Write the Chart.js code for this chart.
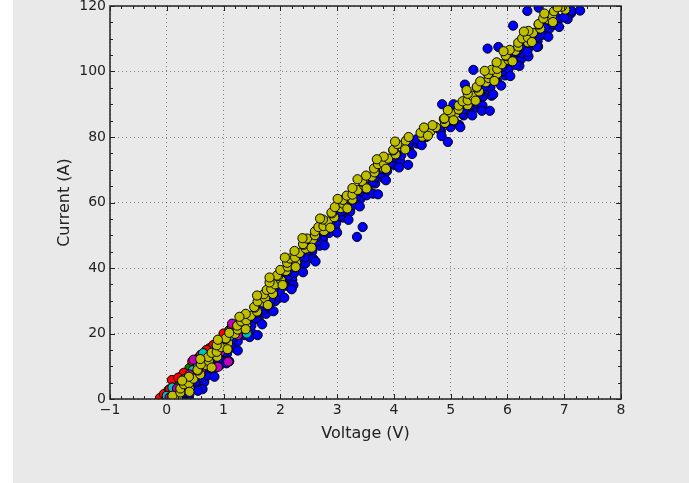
<!DOCTYPE html>
<html>
<head>
<meta charset="utf-8">
<script src="https://cdn.jsdelivr.net/npm/chart.js@4.4.1/dist/chart.umd.min.js"></script>
<style>
  html, body { margin: 0; padding: 0; background: #fff; }
  canvas { display: block; }
</style>
</head>
<body>
<canvas id="myChart" width="689" height="483"></canvas>
<script>
// tick labels
const voltageTicks = [-1, 0, 1, 2, 3, 4, 5, 6, 7, 8];
const currentTicks = [0, 20, 40, 60, 80, 100, 120];

// [voltage, current] readings, one array per run
const blue = [
  [0.39,0.2],[0.27,1.1],[0.40,1.6],[0.31,2.0],[0.53,3.4],[0.48,3.9],[0.66,5.2],[0.50,5.3],[0.62,6.5],[0.72,7.2],
  [0.61,7.8],[0.83,9.1],[0.75,9.5],[0.93,10.2],[0.81,11.5],[0.94,12.0],[0.84,12.4],[1.06,13.8],[1.01,14.3],[1.19,15.6],
  [1.04,15.7],[1.16,16.9],[1.25,17.6],[1.14,18.2],[1.37,19.5],[1.29,19.9],[1.48,20.6],[1.36,21.9],[1.49,22.4],[1.40,22.8],
  [1.62,24.2],[1.57,24.7],[1.75,26.0],[1.59,26.1],[1.71,27.3],[1.80,28.0],[1.69,28.6],[1.91,29.9],[1.83,30.3],[2.00,31.0],
  [1.87,32.3],[1.99,32.8],[1.88,33.2],[2.10,34.6],[2.04,35.1],[2.21,36.4],[2.04,36.5],[2.15,37.7],[2.24,38.4],[2.13,39.0],
  [2.34,40.3],[2.26,40.7],[2.44,41.4],[2.32,42.7],[2.44,43.2],[2.34,43.6],[2.56,45.0],[2.51,45.5],[2.69,46.8],[2.53,46.9],
  [2.65,48.1],[2.75,48.8],[2.64,49.4],[2.86,50.7],[2.79,51.1],[2.97,51.8],[2.85,53.1],[2.98,53.6],[2.88,54.0],[3.10,55.4],
  [3.05,55.9],[3.23,57.2],[3.07,57.3],[3.19,58.5],[3.28,59.2],[3.18,59.8],[3.41,61.1],[3.33,61.5],[3.52,62.2],[3.41,63.5],
  [3.54,64.0],[3.45,64.4],[3.67,65.8],[3.63,66.3],[3.81,67.6],[3.66,67.7],[3.78,68.9],[3.88,69.6],[3.77,70.2],[4.00,71.5],
  [3.92,71.9],[4.11,72.6],[4.00,73.9],[4.13,74.4],[4.04,74.8],[4.27,76.2],[4.22,76.7],[4.41,78.0],[4.26,78.1],[4.40,79.3],
  [4.57,80.0],[4.53,80.6],[4.83,81.9],[4.80,82.3],[5.00,83.0],[4.91,84.3],[5.06,84.8],[4.98,85.2],[5.23,86.6],[5.20,87.1],
  [5.39,88.4],[5.24,88.5],[5.36,89.7],[5.45,90.4],[5.35,91.0],[5.57,92.3],[5.49,92.7],[5.68,93.4],[5.56,94.7],[5.70,95.2],
  [5.60,95.6],[5.82,97.0],[5.77,97.5],[5.96,98.8],[5.80,98.9],[5.92,100.1],[6.02,100.8],[5.91,101.4],[6.13,102.7],[6.06,103.1],
  [6.24,103.8],[6.12,105.1],[6.26,105.6],[6.16,106.0],[6.38,107.4],[6.34,107.9],[6.53,109.2],[6.38,109.3],[6.51,110.5],[6.61,111.2],
  [6.51,111.8],[6.74,113.1],[6.67,113.5],[6.86,114.2],[6.75,115.5],[6.91,116.0],[6.87,116.4],[7.12,117.8],[7.13,118.5],[7.28,118.6],
  [0.63,3.0],[0.84,6.8],[1.05,10.9],[1.25,14.8],[1.46,18.9],[1.68,22.8],[1.88,26.8],[2.07,30.9],[2.23,34.8],[2.40,38.7],
  [2.58,42.8],[2.78,46.9],[3.00,50.8],[3.20,54.7],[3.40,58.8],[3.63,62.7],[3.86,66.8],[4.09,70.7],[4.32,74.8],[4.49,77.5],
  [4.84,80.3],[5.15,83.7],[5.38,86.6],[5.56,89.6],[5.72,92.6],[5.89,95.7],[6.05,98.6],[6.21,101.7],[6.37,104.6],[6.54,107.6],
  [6.72,110.6],[6.91,113.6],[7.06,116.0],
  [0.55,2.5],[1.10,11.5],[1.60,19.5],[2.20,33.5],[2.62,42.0],[3.35,49.5],[3.45,52.5],[3.72,62.5],[4.25,71.5],[4.95,78.5],
  [5.17,83.0],[5.55,88.0],[5.69,88.0],[5.75,93.0],[6.15,102.0],[6.52,107.5],[6.35,106.0],[6.80,114.5],[7.00,116.5],[4.85,90.0],
  [5.05,90.0],[5.40,100.5],[5.65,107.0],[5.84,107.5],[6.10,114.0],[6.35,118.5],[6.55,119.5],[5.25,96.0]
];
const green = [
  [0.00,0.8],[0.03,2.7],[0.15,4.5],[0.25,6.8],[0.40,9.5],[0.55,12.5],[0.75,15.5],[0.95,18.0],[1.10,21.0],
  [0.20,1.5],[0.35,4.0],[0.60,9.8],[0.85,13.5]
];
const red = [
  [-0.12,0.3],[-0.05,1.5],[0.09,5.8],[0.05,3.0],[0.30,8.0],[0.45,11.5],[0.60,13.5],[0.82,16.5],[1.00,20.0],[1.15,22.0],
  [0.20,6.5],[0.70,15.0]
];
const cyan = [
  [0.00,1.0],[0.10,3.5],[0.30,6.0],[0.46,8.8],[0.64,14.0],[0.80,13.0],[0.98,17.5],[1.20,21.5],[1.41,20.0],[1.30,24.5],
  [0.55,10.5],[1.10,19.0]
];
const magenta = [
  [0.05,0.5],[0.18,3.2],[0.35,5.0],[0.47,12.0],[0.60,8.5],[0.75,11.0],[0.90,9.8],[1.08,11.4],[0.95,14.5],[1.05,17.0],
  [1.25,19.5],[1.15,23.0],[0.85,15.5],[0.40,7.5],[0.25,2.0],[1.35,22.5]
];
const yellow = [
  [0.20,0.7],[0.10,1.0],[0.24,2.0],[0.24,3.2],[0.40,3.3],[0.30,4.5],[0.39,4.8],[0.47,6.2],[0.39,6.8],[0.59,7.5],
  [0.55,8.7],[0.54,8.9],[0.70,10.3],[0.60,10.6],[0.74,11.6],[0.73,12.8],[0.89,12.9],[0.79,14.1],[0.88,14.4],[0.96,15.8],
  [0.88,16.4],[1.08,17.1],[1.04,18.3],[1.04,18.5],[1.20,19.9],[1.10,20.2],[1.25,21.2],[1.24,22.4],[1.40,22.5],[1.31,23.7],
  [1.40,24.0],[1.48,25.4],[1.39,26.0],[1.59,26.7],[1.55,27.9],[1.54,28.1],[1.70,29.5],[1.60,29.8],[1.73,30.8],[1.71,32.0],
  [1.87,32.1],[1.76,33.3],[1.84,33.6],[1.91,35.0],[1.81,35.6],[2.01,36.3],[1.96,37.5],[1.94,37.7],[2.10,39.1],[2.00,39.4],
  [2.13,40.4],[2.12,41.6],[2.28,41.7],[2.17,42.9],[2.26,43.2],[2.34,44.6],[2.25,45.2],[2.45,45.9],[2.41,47.1],[2.40,47.3],
  [2.57,48.7],[2.47,49.0],[2.61,50.0],[2.61,51.2],[2.77,51.3],[2.67,52.5],[2.76,52.8],[2.84,54.2],[2.75,54.8],[2.95,55.5],
  [2.91,56.7],[2.90,56.9],[3.06,58.3],[2.96,58.6],[3.11,59.6],[3.10,60.8],[3.27,60.9],[3.17,62.1],[3.27,62.4],[3.36,63.8],
  [3.27,64.4],[3.48,65.1],[3.45,66.3],[3.44,66.5],[3.61,67.9],[3.51,68.2],[3.66,69.2],[3.65,70.4],[3.82,70.5],[3.72,71.7],
  [3.82,72.0],[3.90,73.4],[3.82,74.0],[4.03,74.7],[3.99,75.9],[3.99,76.1],[4.16,77.5],[4.06,77.8],[4.21,78.8],[4.26,80.0],
  [4.50,80.1],[4.47,81.3],[4.64,81.6],[4.74,83.0],[4.68,83.6],[4.90,84.3],[4.88,85.5],[4.89,85.7],[5.08,87.1],[5.00,87.4],
  [5.14,88.4],[5.14,89.6],[5.30,89.7],[5.21,90.9],[5.30,91.2],[5.38,92.6],[5.30,93.2],[5.50,93.9],[5.46,95.1],[5.46,95.3],
  [5.62,96.7],[5.52,97.0],[5.67,98.0],[5.66,99.2],[5.82,99.3],[5.72,100.5],[5.82,100.8],[5.90,102.2],[5.81,102.8],[6.02,103.5],
  [5.98,104.7],[5.97,104.9],[6.14,106.3],[6.04,106.6],[6.19,107.6],[6.19,108.8],[6.36,108.9],[6.26,110.1],[6.36,110.4],[6.45,111.8],
  [6.37,112.4],[6.58,113.1],[6.55,114.3],[6.55,114.5],[6.72,115.9],[6.63,116.2],[6.79,117.2],[6.82,118.4],[7.02,118.9],[6.96,119.8],
  [0.40,2.2],[0.27,5.6],[0.79,9.6],[0.59,12.2],[1.07,15.2],[0.90,18.1],[1.39,21.3],[1.28,25.1],[1.78,28.7],[1.59,31.6],
  [2.04,34.8],[1.81,37.1],[2.27,40.3],[2.08,43.2],[2.55,46.2],[2.39,49.1],[2.88,52.3],[2.70,55.1],[3.18,58.2],[3.01,61.1],
  [3.52,64.3],[3.36,67.1],[3.86,70.3],[3.70,73.2],[4.20,76.2],[4.02,78.6],[4.60,80.4],[4.53,82.9],[5.05,85.1],[4.95,88.2],
  [5.44,91.1],[5.28,94.3],[5.77,97.1],[5.60,100.2],[6.09,103.1],[5.93,106.2],[6.43,109.0],[6.29,112.2],[6.80,115.1],[6.65,117.7],
  [6.88,119.6]
];

function toPoints(arr) {
  return arr.map(p => ({ x: p[0], y: p[1] }));
}

function series(arr, color) {
  return {
    data: toPoints(arr),
    backgroundColor: color,
    borderColor: '#000',
    borderWidth: 1,
    pointRadius: 4.6,
    pointHoverRadius: 4.6
  };
}

const figBg = {
  id: 'figBg',
  beforeDraw(chart) {
    const ctx = chart.ctx;
    ctx.save();
    ctx.fillStyle = '#e9e9e9';
    ctx.fillRect(13, 0, chart.width - 13, chart.height);
    ctx.restore();
  },
  afterDatasetsDraw(chart) {
    const { ctx, chartArea: a, scales: { x, y } } = chart;
    ctx.save();
    ctx.strokeStyle = '#222';
    ctx.lineWidth = 1;
    ctx.beginPath();
    // inward major + minor ticks on all four sides
    for (let k = 0; k <= 45; k++) {
      const v = -1 + k * 0.2;
      const px = Math.round(x.getPixelForValue(v)) + 0.5;
      const len = k % 5 === 0 ? 5 : 3;
      ctx.moveTo(px, a.bottom); ctx.lineTo(px, a.bottom - len);
      ctx.moveTo(px, a.top); ctx.lineTo(px, a.top + len);
    }
    for (let k = 0; k <= 24; k++) {
      const v = k * 5;
      const py = Math.round(y.getPixelForValue(v)) + 0.5;
      const len = k % 4 === 0 ? 5 : 3;
      ctx.moveTo(a.left, py); ctx.lineTo(a.left + len, py);
      ctx.moveTo(a.right, py); ctx.lineTo(a.right - len, py);
    }
    ctx.stroke();
    ctx.lineWidth = 1.5;
    ctx.strokeRect(a.left, a.top, a.right - a.left, a.bottom - a.top);
    ctx.restore();
  }
};

const ctx = document.getElementById('myChart');

new Chart(ctx, {
  type: 'scatter',
  data: {
    datasets: [
      series(yellow, '#bfbf00'),
      series(magenta, '#bf00bf'),
      series(cyan, '#00bfbf'),
      series(red, '#ff0000'),
      series(green, '#008000'),
      series(blue, '#0000ff')
    ]
  },
  options: {
    responsive: false,
    animation: false,
    devicePixelRatio: 1,
    layout: { padding: { left: 45, top: 6, right: 68, bottom: 34 } },
    plugins: { legend: { display: false }, tooltip: { enabled: false } },
    scales: {
      x: {
        type: 'linear',
        min: -1,
        max: 8,
        afterBuildTicks: s => { s.ticks = voltageTicks.map(v => ({ value: v })); },
        afterFit: s => { s.height = 50; s.paddingLeft = 0; s.paddingRight = 0; },
        grid: { color: 'rgba(0,0,0,0.45)', lineWidth: 1, drawTicks: false },
        border: { display: false, dash: [1, 3] },
        ticks: {
          padding: 3,
          color: '#222',
          font: { family: 'DejaVu Sans', size: 14 },
          maxRotation: 0,
          callback: v => v < 0 ? '\u2212' + Math.abs(v) : String(v)
        },
        title: {
          display: true,
          text: 'Voltage (V)',
          color: '#222',
          font: { family: 'DejaVu Sans', size: 16 },
          padding: { top: 0, bottom: 6 }
        }
      },
      y: {
        type: 'linear',
        min: 0,
        max: 120,
        afterBuildTicks: s => { s.ticks = currentTicks.map(v => ({ value: v })); },
        afterFit: s => { s.width = 65; s.paddingTop = 0; s.paddingBottom = 0; },
        grid: { color: 'rgba(0,0,0,0.45)', lineWidth: 1, drawTicks: false },
        border: { display: false, dash: [1, 3] },
        ticks: {
          padding: 4,
          color: '#222',
          font: { family: 'DejaVu Sans', size: 14 }
        },
        title: {
          display: true,
          text: 'Current (A)',
          color: '#222',
          font: { family: 'DejaVu Sans', size: 16 },
          padding: { top: 10, bottom: 0 }
        }
      }
    }
  },
  plugins: [figBg]
});
</script>
</body>
</html>
